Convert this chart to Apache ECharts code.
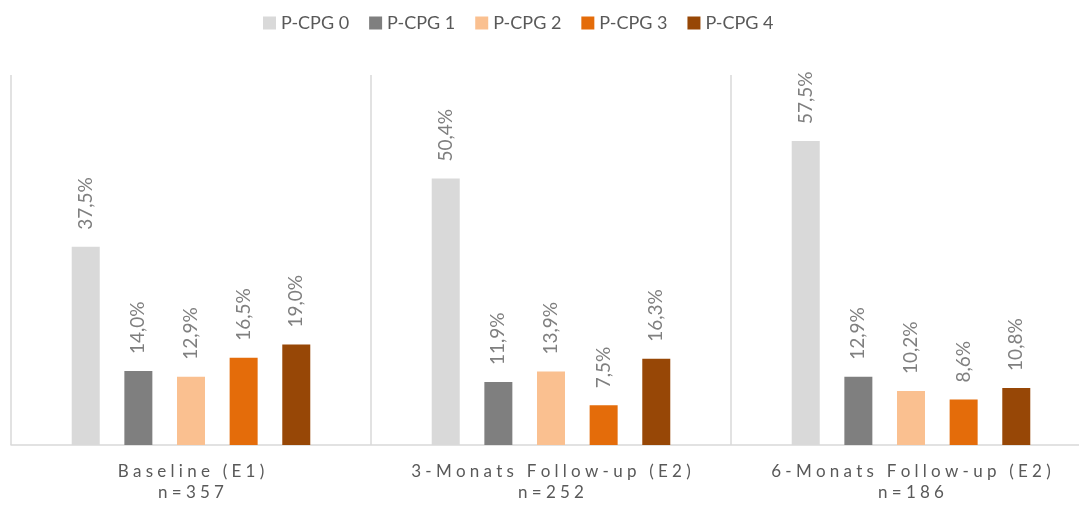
<!DOCTYPE html>
<html>
<head>
<meta charset="utf-8">
<script src="https://cdn.jsdelivr.net/npm/echarts@6/dist/echarts.min.js"></script>
<style>
  html, body { margin: 0; padding: 0; background: #fff; }
  #chart { width: 1079px; height: 508px; }
</style>
</head>
<body>
<div id="chart"></div>
<script>
// Measurement points (category axis)
const categories = ['Baseline (E1)\nn=357', '3-Monats Follow-up (E2)\nn=252', '6-Monats Follow-up (E2)\nn=186'];

// Share of patients per P-CPG grade, in percent
const seriesNames = ['P-CPG 0', 'P-CPG 1', 'P-CPG 2', 'P-CPG 3', 'P-CPG 4'];
const pcpg0 = [37.5, 50.4, 57.5];
const pcpg1 = [14.0, 11.9, 12.9];
const pcpg2 = [12.9, 13.9, 10.2];
const pcpg3 = [16.5, 7.5, 8.6];
const pcpg4 = [19.0, 16.3, 10.8];
const seriesValues = [pcpg0, pcpg1, pcpg2, pcpg3, pcpg4];

const colors = ['#d9d9d9', '#7f7f7f', '#fac090', '#e46c0a', '#974706'];
const fontFamily = 'Lato, "Open Sans", sans-serif';

// Spread the characters of the axis labels a little
function spaced(s) {
  return s.split('\n').map(line => line.split('').join('\u2005')).join('\n');
}

const chart = echarts.init(document.getElementById('chart'));
chart.setOption({
  animation: false,
  color: colors,
  textStyle: { fontFamily: fontFamily },
  legend: {
    top: 14,
    left: 263,
    padding: 0,
    itemWidth: 13,
    itemHeight: 13,
    itemGap: 20,
    icon: 'rect',
    textStyle: { color: '#595959', fontSize: 18, fontFamily: fontFamily },
    data: seriesNames
  },
  // the last category runs past the right edge of the page
  grid: { left: 11, top: 75, bottom: 63, width: 1080, outerBoundsMode: 'none' },
  xAxis: {
    type: 'category',
    data: categories,
    axisLine: { lineStyle: { color: '#d9d9d9', width: 1.5 } },
    axisTick: { show: false },
    splitLine: { show: true, interval: 0, lineStyle: { color: '#d9d9d9', width: 1.5 } },
    axisLabel: {
      interval: 0,
      color: '#595959',
      fontSize: 17,
      lineHeight: 21,
      margin: 16,
      fontFamily: fontFamily,
      formatter: v => spaced(v)
    }
  },
  yAxis: {
    type: 'value',
    min: 0,
    max: 70,
    show: false,
    splitLine: { show: false }
  },
  series: seriesNames.map((name, i) => ({
    name: name,
    type: 'bar',
    data: seriesValues[i],
    barWidth: 28,
    barGap: '88%',
    itemStyle: { color: colors[i] },
    label: {
      show: true,
      position: 'top',
      rotate: 90,
      align: 'left',
      verticalAlign: 'middle',
      distance: 17,
      color: '#7f7f7f',
      fontSize: 19,
      fontFamily: fontFamily,
      formatter: p => p.value.toFixed(1).replace('.', ',') + '%'
    }
  }))
});
</script>
</body>
</html>
